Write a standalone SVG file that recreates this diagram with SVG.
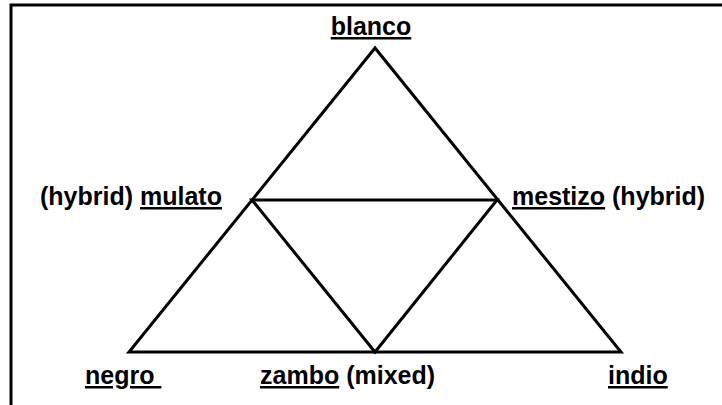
<svg xmlns="http://www.w3.org/2000/svg" width="722" height="405" viewBox="0 0 722 405">
<style>
.t{font-family:"Liberation Sans",Arial,sans-serif;font-weight:bold;font-size:25px;fill:#000}
.u{text-decoration:underline}
.e{stroke:#000;stroke-width:3;fill:none;stroke-linejoin:miter}
</style>
<rect width="722" height="405" fill="#fff"/>
<g id="frame"><path class="e" d="M11,405 V5 H722"/></g>
<g id="connectors">
<path class="e" d="M375,48 L129,352 L621,352 Z"/>
<path class="e" d="M252,200 L497,200 L375,352 Z"/>
</g>
<g id="blanco"><text class="t" x="371" y="35" text-anchor="middle"><tspan class="u">blanco</tspan></text></g>
<g id="mulato"><text class="t" x="40" y="205">(hybrid) <tspan class="u">mulato</tspan></text></g>
<g id="mestizo"><text class="t" x="512" y="205"><tspan class="u">mestizo</tspan> (hybrid)</text></g>
<g id="negro"><text class="t" x="85" y="384"><tspan class="u">negro&#160;</tspan></text></g>
<g id="zambo"><text class="t" x="260" y="384"><tspan class="u">zambo</tspan> (mixed)</text></g>
<g id="indio"><text class="t" x="608" y="384"><tspan class="u">indio</tspan></text></g>
</svg>
